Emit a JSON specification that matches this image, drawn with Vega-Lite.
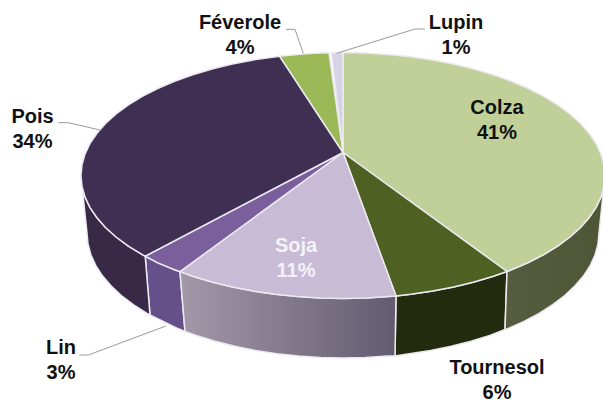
{
"$schema":"https://vega.github.io/schema/vega-lite/v6.json",
"width":603,"height":400,"padding":0,"autosize":{"type":"fit","contains":"padding"},
"background":"white","view":{"stroke":null},
"projection":{"type":"identity","scale":1,"translate":[0,0]},
"datasets":{
"sides":[
{"type":"Feature","properties":{"name":"Tournesol"},"geometry":{"type":"Polygon","coordinates":[[[507,271.5],[493.3,276.3],[474,282],[453.7,287],[432.6,291.1],[410.8,294.3],[396,296],[395,356],[409.3,353.7],[430.6,350.5],[451.2,346.3],[471,341.3],[489.8,335.4],[505,329.5],[507,271.5]]]}},
{"type":"Feature","properties":{"name":"Lin"},"geometry":{"type":"Polygon","coordinates":[[[180,271.6],[174.6,269.7],[145.2,256.2],[150,315],[178.4,328.8],[185,331.5],[180,271.6]]]}},
{"type":"Feature","properties":{"name":"Pois"},"geometry":{"type":"Polygon","coordinates":[[[145.2,256.2],[142.3,254.6],[128.4,246.1],[116.1,237],[105.5,227.5],[96.8,217.5],[89.9,207.3],[85,196.9],[82,186.2],[81,175.5],[87,233],[88,243.9],[90.9,254.7],[95.7,265.4],[102.4,275.8],[111,285.8],[121.3,295.5],[133.3,304.7],[147,313.4],[150,315],[145.2,256.2]]]}}
],
"sideColza":[
{"type":"Feature","properties":{"name":"Colza"},"geometry":{"type":"Polygon","coordinates":[[[507,271.5],[511.4,269.7],[528.3,262.5],[543.7,254.6],[557.6,246.1],[569.9,237],[580.5,227.5],[589.2,217.5],[596.1,207.3],[601,196.9],[604,186.2],[605,175.5],[599,233],[598,243.9],[595.1,254.7],[590.3,265.4],[583.6,275.8],[575,285.8],[564.7,295.5],[552.7,304.7],[539.1,313.4],[524,321.4],[507.6,328.8],[505,329.5],[507,271.5]]]}}
],
"sideSoja":[
{"type":"Feature","properties":{"name":"Soja"},"geometry":{"type":"Polygon","coordinates":[[[396,296],[388.5,296.6],[365.8,298],[343,298.5],[320.2,298],[297.5,296.6],[275.2,294.3],[253.4,291.1],[232.3,287],[212,282],[192.7,276.3],[180,271.6],[185,331.5],[196.2,335.4],[215,341.3],[234.8,346.3],[255.4,350.5],[276.7,353.7],[298.5,356.1],[320.7,357.5],[343,358],[365.3,357.5],[387.5,356.1],[395,356],[396,296]]]}}
],
"tops":[
{"type":"Feature","properties":{"name":"Colza","share":41},"geometry":{"type":"Polygon","coordinates":[[[343,152.5],[343,52.5],[365.8,53],[388.5,54.4],[410.8,56.7],[432.6,59.9],[453.7,64],[474,69],[493.3,74.7],[511.4,81.3],[528.3,88.5],[543.7,96.4],[557.6,104.9],[569.9,114],[580.5,123.5],[589.2,133.5],[596.1,143.7],[601,154.1],[604,164.8],[605,175.5],[604,186.2],[601,196.9],[596.1,207.3],[589.2,217.5],[580.5,227.5],[569.9,237],[557.6,246.1],[543.7,254.6],[528.3,262.5],[511.4,269.7],[507,271.5],[343,152.5]]]}},
{"type":"Feature","properties":{"name":"Tournesol","share":6},"geometry":{"type":"Polygon","coordinates":[[[343,152.5],[507,271.5],[493.3,276.3],[474,282],[453.7,287],[432.6,291.1],[410.8,294.3],[396,296],[343,152.5]]]}},
{"type":"Feature","properties":{"name":"Soja","share":11},"geometry":{"type":"Polygon","coordinates":[[[343,152.5],[396,296],[388.5,296.6],[365.8,298],[343,298.5],[320.2,298],[297.5,296.6],[275.2,294.3],[253.4,291.1],[232.3,287],[212,282],[192.7,276.3],[180,271.6],[343,152.5]]]}},
{"type":"Feature","properties":{"name":"Lin","share":3},"geometry":{"type":"Polygon","coordinates":[[[343,152.5],[180,271.6],[174.6,269.7],[158,263],[145.2,256.2],[343,152.5]]]}},
{"type":"Feature","properties":{"name":"Pois","share":34},"geometry":{"type":"Polygon","coordinates":[[[343,152.5],[145.2,256.2],[142.3,254.6],[128.4,246.1],[116.1,237],[105.5,227.5],[96.8,217.5],[89.9,207.3],[85,196.9],[82,186.2],[81,175.5],[82,164.8],[85,154.1],[89.9,143.7],[96.8,133.5],[105.5,123.5],[116.1,114],[128.4,104.9],[142.3,96.4],[157.7,88.5],[174.6,81.3],[192.7,74.7],[212,69],[232.3,64],[253.4,59.9],[279.6,56.2],[343,152.5]]]}},
{"type":"Feature","properties":{"name":"Féverole","share":4},"geometry":{"type":"Polygon","coordinates":[[[343,152.5],[279.6,56.2],[297.5,54.4],[313,53.3],[329,52.8],[343,152.5]]]}},
{"type":"Feature","properties":{"name":"Lupin","share":1},"geometry":{"type":"Polygon","coordinates":[[[343,152.5],[331.5,52.7],[343,52.5],[343,152.5]]]}}
],
"leaders":[
{"type":"Feature","properties":{"name":"Féverole"},"geometry":{"type":"LineString","coordinates":[[286,29.3],[295,29.3],[303.3,53.3]]}},
{"type":"Feature","properties":{"name":"Lupin"},"geometry":{"type":"LineString","coordinates":[[425,29],[415,29],[336.7,53.3]]}},
{"type":"Feature","properties":{"name":"Pois"},"geometry":{"type":"LineString","coordinates":[[58.3,122.7],[68.3,122.7],[100,130]]}},
{"type":"Feature","properties":{"name":"Lin"},"geometry":{"type":"LineString","coordinates":[[79.3,355],[88.3,355],[166,326]]}}
],
"labels":[
{"label":"Colza\n41%","lon":497,"lat":108,"tone":"dark"},
{"label":"Tournesol\n6%","lon":497,"lat":368,"tone":"dark"},
{"label":"Soja\n11%","lon":296,"lat":246,"tone":"light"},
{"label":"Lin\n3%","lon":61,"lat":348,"tone":"dark"},
{"label":"Pois\n34%","lon":32.5,"lat":117,"tone":"dark"},
{"label":"Féverole\n4%","lon":240,"lat":23,"tone":"dark"},
{"label":"Lupin\n1%","lon":456,"lat":23,"tone":"dark"}
]
},
"resolve":{"scale":{"fill":"independent","color":"independent"}},
"layer":[
{"data":{"name":"sides"},"mark":{"type":"geoshape","stroke":"#ece9f1","strokeWidth":1.5},
 "encoding":{"fill":{"field":"properties.name","type":"nominal","legend":null,"scale":{"domain":["Tournesol","Lin","Pois"],"range":["#222b0e","#65508a","#382a46"]}}}},
{"data":{"name":"sideColza"},"mark":{"type":"geoshape","stroke":"#ece9f1","strokeWidth":1.5,"fill":{"gradient":"linear","x1":0,"x2":1,"y1":0,"y2":0,"stops":[{"offset":0,"color":"#555c40"},{"offset":1,"color":"#4f5636"}]}},"encoding":{}},
{"data":{"name":"sideSoja"},"mark":{"type":"geoshape","stroke":"#ece9f1","strokeWidth":1.5,"fill":{"gradient":"linear","x1":0,"x2":1,"y1":0,"y2":0,"stops":[{"offset":0,"color":"#a298a8"},{"offset":1,"color":"#635b70"}]}},"encoding":{}},
{"data":{"name":"tops"},"mark":{"type":"geoshape","stroke":"#ece9f1","strokeWidth":1.5},
 "encoding":{"fill":{"field":"properties.name","type":"nominal","legend":null,"scale":{"domain":["Colza","Tournesol","Soja","Lin","Pois","Féverole","Lupin"],"range":["#c0d098","#4f6122","#c7bbd6","#7a5f9c","#3f2f53","#9ab855","#d6d3e6"]}}}},
{"data":{"name":"leaders"},"mark":{"type":"geoshape","filled":false,"stroke":"#999999","strokeWidth":1},"encoding":{}},
{"data":{"name":"labels"},"mark":{"type":"text","font":"Liberation Sans","fontWeight":"bold","fontSize":20,"lineBreak":"\n","lineHeight":24.5,"align":"center","baseline":"middle"},
 "encoding":{"longitude":{"field":"lon","type":"quantitative"},"latitude":{"field":"lat","type":"quantitative"},"text":{"field":"label","type":"nominal"},
 "color":{"field":"tone","type":"nominal","legend":null,"scale":{"domain":["dark","light"],"range":["#111111","#f4f2f7"]}}}}
]
}
